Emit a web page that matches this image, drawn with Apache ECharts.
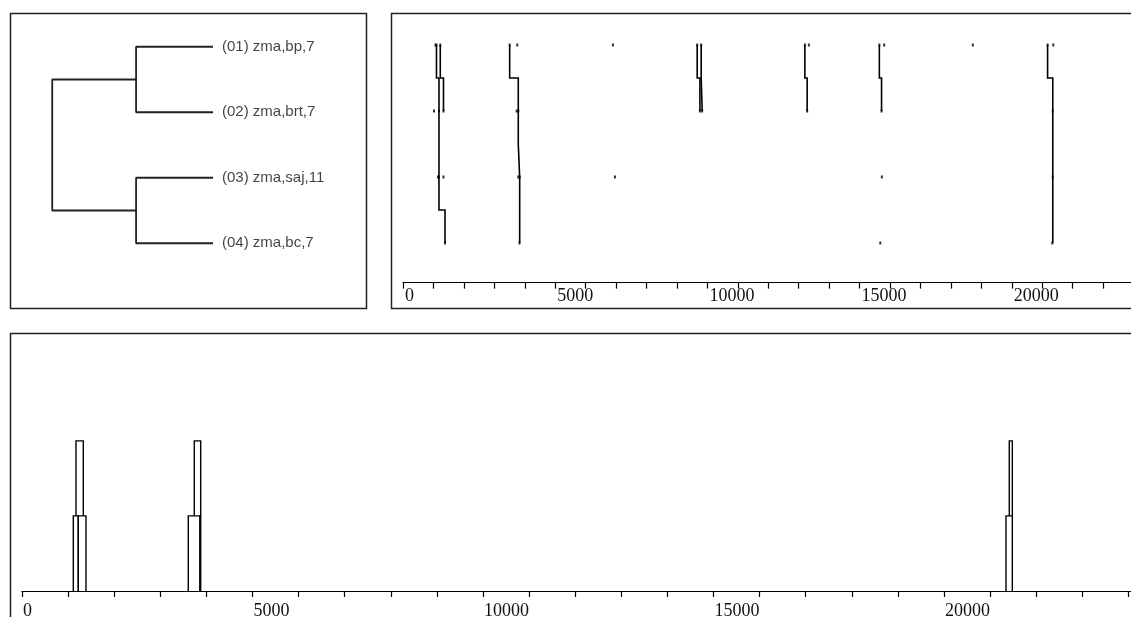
<!DOCTYPE html>
<html>
<head>
<meta charset="utf-8">
<script src="https://cdn.jsdelivr.net/npm/echarts@6/dist/echarts.min.js"></script>
<style>
	html, body { margin: 0; padding: 0; background: #fff; }
	#draw { width: 1131px; height: 617px; }
</style>
</head>
<body>
<div id="draw"></div>
<script>
	// dendrogram leaves and merges (index >= 4 means an earlier merge)
	var leafNames = ['(01) zma,bp,7', '(02) zma,brt,7', '(03) zma,saj,11', '(04) zma,bc,7'];
	var merges = [[0, 1, 1.0], [2, 3, 1.0], [4, 5, 2.09]];

	// gene positions on each sequence (bp)
	var row1Genes = [1067, 1100, 1225, 3505, 3754, 6897, 9665, 9796, 13202, 13333, 15649, 15806, 18719, 21176, 21363];
	var row2Genes = [1018, 1182, 1330, 3734, 3787, 9754, 9829, 13277, 15721, 21346];
	var row3Genes = [1150, 1182, 1330, 3787, 3833, 6962, 15731, 21346];
	var row4Genes = [1380, 3826, 15681, 21330];

	// links between neighbouring sequences [from, to]
	var links12 = [[1100, 1182], [1225, 1330], [3505, 3787], [9665, 9754], [9796, 9829], [13202, 13277], [15649, 15721], [21176, 21346]];
	var links23 = [[1182, 1182], [3787, 3833], [21346, 21346]];
	var links34 = [[1182, 1380], [3833, 3833], [21346, 21346]];

	// conserved blocks [start, end, low level, high level]
	var blocks = [
		[1113, 1221, 0, 1],
		[1221, 1388, 0, 1],
		[1171, 1330, 1, 2],
		[3607, 3861, 0, 1],
		[3861, 3876, 0, 1],
		[3737, 3876, 1, 2],
		[21345, 21482, 0, 1],
		[21416, 21482, 1, 2]
	];

	var axisMax = 25000;
	var tickStep = 1000;
	var labelStep = 5000;

	var seris = [];

	// dendrogram
	var nodes = leafNames.map(function(n, i) { return { h: 0, y: i + 1 }; });
	merges.forEach(function(m) {
		var a = nodes[m[0]], b = nodes[m[1]];
		seris.push({
			type: 'line',
			xAxisIndex: 0, yAxisIndex: 0,
			data: [[a.h, a.y], [m[2], a.y], [m[2], b.y], [b.h, b.y]],
			symbol: 'none',
			silent: true,
			lineStyle: { color: '#222', width: 1.8 }
		});
		nodes.push({ h: m[2], y: (a.y + b.y) / 2 });
	});
	seris.push({
		type: 'scatter',
		xAxisIndex: 0, yAxisIndex: 0,
		symbolSize: 0,
		data: leafNames.map(function(n, i) { return [0, i + 1, n]; }),
		label: {
			show: true,
			position: 'right',
			distance: 9,
			formatter: function(p) { return p.value[2]; },
			fontFamily: 'Liberation Sans',
			fontSize: 15,
			color: '#111'
		}
	});

	// links as steps between rows
	[links12, links23, links34].forEach(function(list, r) {
		var y = r + 1;
		list.forEach(function(l) {
			seris.push({
				type: 'line',
				xAxisIndex: 1, yAxisIndex: 1,
				data: [[l[0], y], [l[0], y + 0.5], [l[1], y + 0.5], [l[1], y + 1]],
				symbol: 'none',
				silent: true,
				lineStyle: { color: '#000', width: 1.6, join: 'miter' }
			});
		});
	});
	// gene marks
	var dots = [];
	[row1Genes, row2Genes, row3Genes, row4Genes].forEach(function(g, r) {
		g.forEach(function(x) { dots.push([x, r + 1]); });
	});
	seris.push({
		type: 'scatter',
		xAxisIndex: 1, yAxisIndex: 1,
		symbol: 'rect',
		symbolSize: [2, 3],
		itemStyle: { color: '#000' },
		data: dots
	});

	// blocks, open at the bottom
	seris.push({
		type: 'custom',
		xAxisIndex: 2, yAxisIndex: 2,
		data: blocks,
		renderItem: function(params, api) {
			var a = api.coord([api.value(0), api.value(2)]);
			var b = api.coord([api.value(1), api.value(3)]);
			return {
				type: 'polyline',
				shape: { points: [[a[0], a[1]], [a[0], b[1]], [b[0], b[1]], [b[0], a[1]]] },
				style: { fill: null, stroke: '#000', lineWidth: 1.4 }
			};
		}
	});

	function posAxis(idx, pad) {
		return {
			gridIndex: idx,
			type: 'value',
			min: 0,
			max: axisMax,
			interval: tickStep,
			axisLine: { lineStyle: { color: '#000', width: 1.2 } },
			axisTick: { length: 6, lineStyle: { color: '#000', width: 1.2 } },
			axisLabel: {
				formatter: function(v) { return v % labelStep === 0 ? String(v) : ''; },
				fontFamily: 'Liberation Serif',
				fontSize: 18,
				color: '#111',
				align: 'left',
				margin: 5,
				padding: [0, 0, 0, pad]
			},
			splitLine: { show: false }
		};
	}

	var myChart = echarts.init(document.getElementById('draw'));
	myChart.setOption({
		animation: false,
		backgroundColor: '#fff',
		grid: [
			{ left: 13, top: 14, width: 200, height: 262, outerBoundsMode: 'none' },
			{ left: 403, top: 12, width: 761, height: 270.6, outerBoundsMode: 'none' },
			{ left: 22, top: 341, width: 1152.5, height: 256, outerBoundsMode: 'none' }
		],
		xAxis: [
			{ gridIndex: 0, type: 'value', min: 0, max: 2.6, inverse: true, show: false },
			posAxis(1, 2),
			posAxis(2, 1)
		],
		yAxis: [
			{ gridIndex: 0, type: 'value', min: 0.5, max: 4.5, inverse: true, show: false },
			{ gridIndex: 1, type: 'value', min: 0.5, max: 4.6, inverse: true, show: false },
			{ gridIndex: 2, type: 'value', min: -0.08, max: 3.33, show: false }
		],
		graphic: [
			{ type: 'rect', shape: { x: 10.5, y: 13.5, width: 356, height: 295 }, style: { fill: null, stroke: '#222', lineWidth: 1.5 } },
			{ type: 'rect', shape: { x: 391.5, y: 13.5, width: 800, height: 295 }, style: { fill: null, stroke: '#222', lineWidth: 1.5 } },
			{ type: 'rect', shape: { x: 10.5, y: 333.5, width: 1200, height: 400 }, style: { fill: null, stroke: '#222', lineWidth: 1.5 } }
		],
		series: seris
	});
</script>
</body>
</html>
